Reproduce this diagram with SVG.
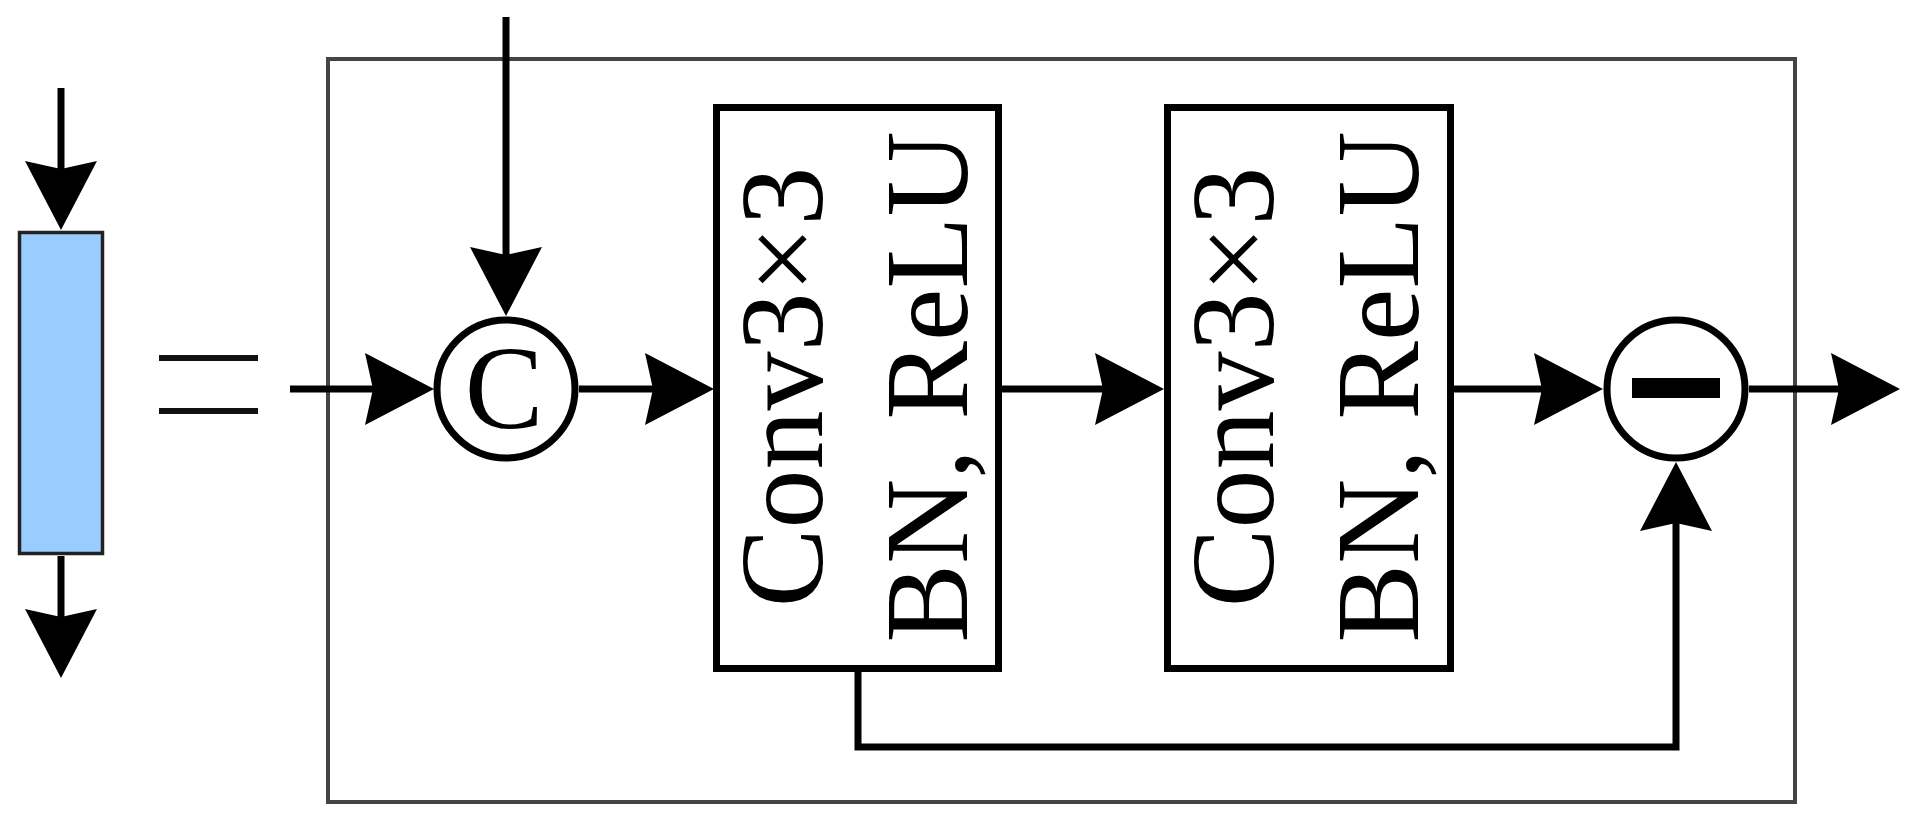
<svg xmlns="http://www.w3.org/2000/svg" width="1920" height="820" viewBox="0 0 1920 820">
<style>
.ln{fill:none;stroke:#000;stroke-width:7;marker-end:url(#ah)}
.box{fill:#fff;stroke:#000;stroke-width:7}
.node{fill:#fff;stroke:#000;stroke-width:7}
.lbl{font-family:"Liberation Serif","Times New Roman",serif;font-size:118px;fill:#000;text-anchor:middle}
</style>
<defs>
<marker id="ah" markerUnits="userSpaceOnUse" viewBox="-40 -40 80 80" markerWidth="80" markerHeight="80" refX="0" refY="0" orient="auto" overflow="visible">
<path d="M30,0 L-39,-36 L-31,0 L-39,36 Z" fill="#000"/>
</marker>
</defs>
<rect width="1920" height="820" fill="#fff"/>
<g id="legend-block">
<rect x="19.5" y="232.5" width="83" height="321" fill="#99CCFF" stroke="#222" stroke-width="3.5"/>
</g>
<g id="equals">
<line x1="159" y1="358" x2="258" y2="358" stroke="#111" stroke-width="6"/>
<line x1="159" y1="411" x2="258" y2="411" stroke="#111" stroke-width="6"/>
</g>
<g id="outer-frame">
<rect x="328" y="59" width="1467" height="743" fill="none" stroke="#444" stroke-width="4"/>
</g>
<g id="concat">
<circle cx="506" cy="389" r="69" class="node"/>
<text x="504" y="428" class="lbl">C</text>
</g>
<g id="conv1">
<rect x="716.5" y="107.5" width="282" height="561" class="box"/>
<text class="lbl" transform="translate(822,387) rotate(-90)">Conv3×3</text>
<text class="lbl" transform="translate(967,387) rotate(-90)">BN, ReLU</text>
</g>
<g id="conv2">
<rect x="1167.5" y="107.5" width="283" height="561" class="box"/>
<text class="lbl" transform="translate(1273,387) rotate(-90)">Conv3×3</text>
<text class="lbl" transform="translate(1418,387) rotate(-90)">BN, ReLU</text>
</g>
<g id="subtract">
<circle cx="1676" cy="389" r="69" class="node"/>
<rect x="1632" y="378" width="88" height="20" fill="#000"/>
</g>
<g id="connectors">
<line class="ln" x1="61" y1="88" x2="61" y2="200"/>
<line class="ln" x1="61" y1="556" x2="61" y2="648"/>
<line class="ln" x1="290" y1="389" x2="404" y2="389"/>
<line class="ln" x1="506" y1="17" x2="506" y2="286"/>
<line class="ln" x1="579" y1="389" x2="684" y2="389"/>
<line class="ln" x1="1002" y1="389" x2="1134" y2="389"/>
<line class="ln" x1="1454" y1="389" x2="1573" y2="389"/>
<line class="ln" x1="1749" y1="389" x2="1870" y2="389"/>
<polyline class="ln" points="858,672 858,747 1676,747 1676,492"/>
</g>
</svg>
